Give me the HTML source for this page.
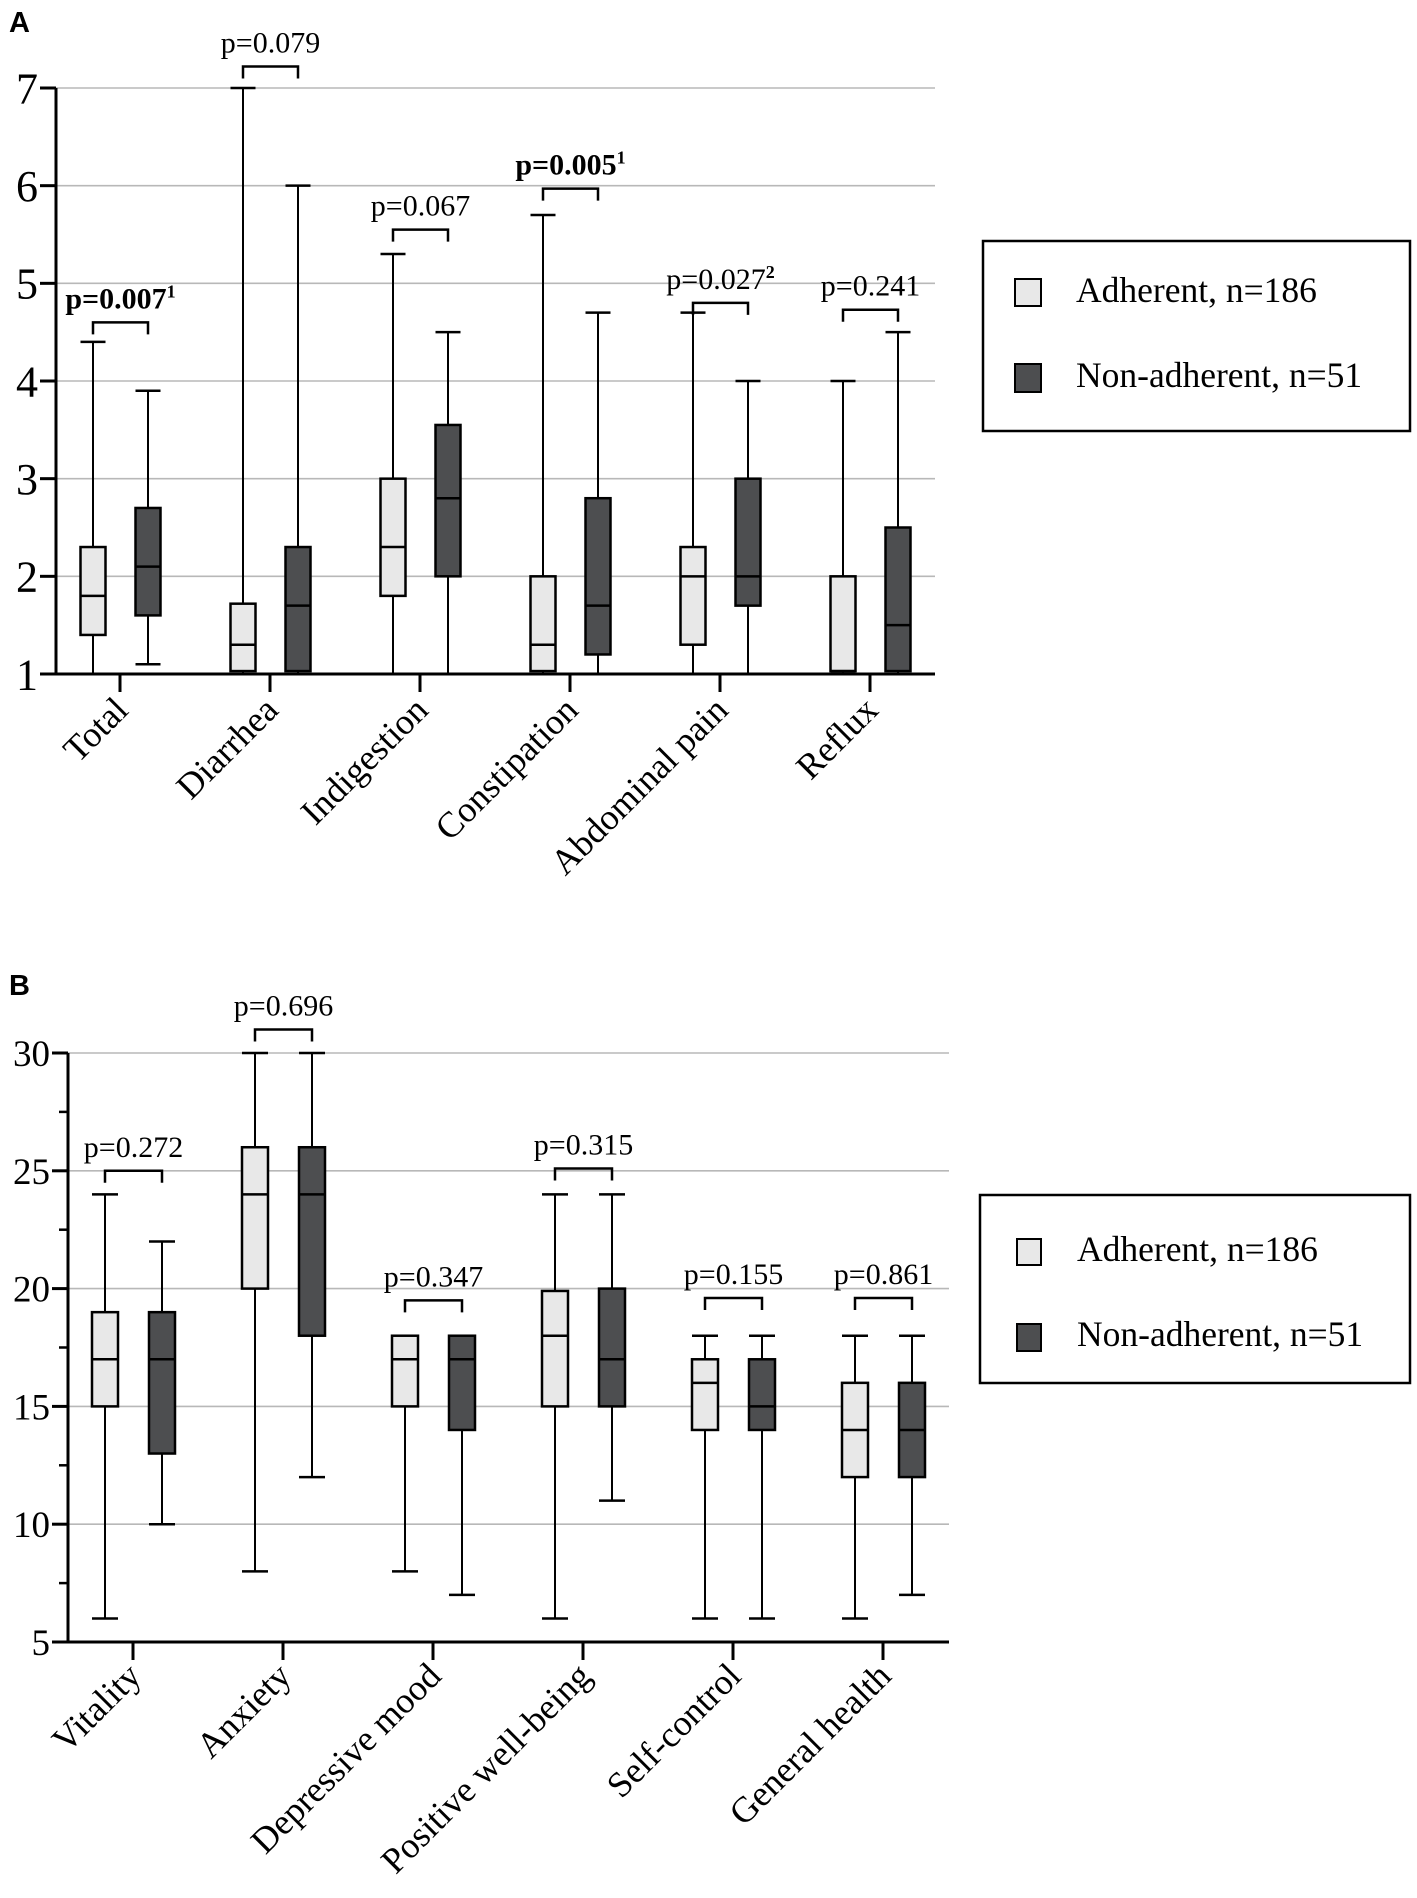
<!DOCTYPE html>
<html><head><meta charset="utf-8"><style>
body{margin:0;background:#fff;}
svg{display:block;}
text{font-family:"Liberation Serif",serif;fill:#000;}
</style></head><body>
<svg id="chart" xmlns="http://www.w3.org/2000/svg" width="1417" height="1898" viewBox="0 0 1417 1898">
<text x="9" y="32" style="font-family:'Liberation Sans',sans-serif;font-weight:bold;font-size:29px">A</text>
<text x="9" y="995" style="font-family:'Liberation Sans',sans-serif;font-weight:bold;font-size:29px">B</text>
<g id="gA"></g>
<g id="gB"></g>
<g>
<rect x="983" y="241" width="427" height="190" fill="#fff" stroke="#000" stroke-width="2.5"/>
<rect x="1015" y="279" width="26" height="27" fill="#e8e8e8" stroke="#000" stroke-width="2"/>
<text x="1076" y="302" font-size="35.5">Adherent, n=186</text>
<rect x="1015" y="364" width="26" height="28" fill="#4d4e50" stroke="#000" stroke-width="2"/>
<text x="1076" y="387" font-size="35.5">Non-adherent, n=51</text>
</g>
<g>
<rect x="980" y="1195" width="430" height="188" fill="#fff" stroke="#000" stroke-width="2.5"/>
<rect x="1017" y="1239" width="24" height="26" fill="#e8e8e8" stroke="#000" stroke-width="2"/>
<text x="1077" y="1261" font-size="35.5">Adherent, n=186</text>
<rect x="1017" y="1324" width="24" height="27" fill="#4d4e50" stroke="#000" stroke-width="2"/>
<text x="1077" y="1346" font-size="35.5">Non-adherent, n=51</text>
</g>
</svg>
<script>
// Panel A data
const catsA = ["Total","Diarrhea","Indigestion","Constipation","Abdominal pain","Reflux"];
// [whiskerLow, q1, median, q3, whiskerHigh]
const adhA = [[1,1.4,1.8,2.3,4.4],[1,1.03,1.3,1.72,7],[1,1.8,2.3,3.0,5.3],[1,1.03,1.3,2.0,5.7],[1,1.3,2.0,2.3,4.7],[1,1.03,1.03,2.0,4.0]];
const nonA = [[1.1,1.6,2.1,2.7,3.9],[1,1.03,1.7,2.3,6],[1,2.0,2.8,3.55,4.5],[1,1.2,1.7,2.8,4.7],[1,1.7,2.0,3.0,4.0],[1,1.03,1.5,2.5,4.5]];
const pA = ["p=0.007","p=0.079","p=0.067","p=0.005","p=0.027","p=0.241"];
const pSupA = ["1","","","1","2",""];
const pBoldA = [true,false,false,true,false,false];
const bracketA = [4.6,7.22,5.55,5.97,4.8,4.73];
const ticksA = [1,2,3,4,5,6,7];
// Panel B data
const catsB = ["Vitality","Anxiety","Depressive mood","Positive well-being","Self-control","General health"];
const adhB = [[6,15,17,19,24],[8,20,24,26,30],[8,15,17,18,18],[6,15,18,19.9,24],[6,14,16,17,18],[6,12,14,16,18]];
const nonB = [[10,13,17,19,22],[12,18,24,26,30],[7,14,17,18,18],[11,15,17,20,24],[6,14,15,17,18],[7,12,14,16,18]];
const pB = ["p=0.272","p=0.696","p=0.347","p=0.315","p=0.155","p=0.861"];
const bracketB = [25,31,19.5,25.1,19.6,19.6];
const ticksB = [5,10,15,20,25,30];
const minorB = [7.5,12.5,17.5,22.5,27.5];

const NS="http://www.w3.org/2000/svg";
function mk(parent,tag,attrs,txt){const e=document.createElementNS(NS,tag);for(const k in attrs)e.setAttribute(k,attrs[k]);if(txt!==undefined)e.textContent=txt;parent.appendChild(e);return e;}

function panel(g,cfg){
  const y=v=>cfg.y0+(v-cfg.vmin)*(cfg.y1-cfg.y0)/(cfg.vmax-cfg.vmin);
  const cx=i=>cfg.c0+150*i;
  cfg.ticks.forEach(t=>{ if(t===cfg.vmin) return;
    const l=mk(g,'line',{x1:cfg.ax,x2:cfg.gx,y1:y(t),y2:y(t),stroke:'#b8b8b8','stroke-width':1.6});
    
    
  });
  cfg.ticks.forEach(t=>{
    mk(g,'line',{x1:cfg.ax-16,x2:cfg.ax,y1:y(t),y2:y(t),stroke:'#000','stroke-width':3});
    const tx=mk(g,'text',{x:cfg.lx,y:y(t)+cfg.fs*0.35,'text-anchor':'end','font-size':cfg.fs},String(t));
    
    
  });
  (cfg.minor||[]).forEach(t=>mk(g,'line',{x1:cfg.ax-9,x2:cfg.ax,y1:y(t),y2:y(t),stroke:'#000','stroke-width':2.5}));
  const drawBox=(d,x,fill,name)=>{
    const w=cfg.bw;
    const bg=mk(g,'g',{});
    
    
    mk(bg,'line',{x1:x,x2:x,y1:y(d[0]),y2:y(d[4]),stroke:'#000','stroke-width':2});
    mk(bg,'line',{x1:x-w/2,x2:x+w/2,y1:y(d[4]),y2:y(d[4]),stroke:'#000','stroke-width':2.5});
    if(d[0]>cfg.vmin+0.05) mk(bg,'line',{x1:x-w/2,x2:x+w/2,y1:y(d[0]),y2:y(d[0]),stroke:'#000','stroke-width':2.5});
    mk(bg,'rect',{x:x-w/2,y:y(d[3]),width:w,height:y(d[1])-y(d[3]),fill:fill,stroke:'#000','stroke-width':2.5});
    mk(bg,'line',{x1:x-w/2,x2:x+w/2,y1:y(d[2]),y2:y(d[2]),stroke:'#000','stroke-width':2.5});
  };
  cfg.cats.forEach((c,i)=>{
    const xa=cx(i)+cfg.oa, xn=cx(i)+cfg.on;
    drawBox(cfg.adh[i],xa,'#e8e8e8','box-adherent-'+i);
    drawBox(cfg.non[i],xn,'#4d4e50','box-non-adherent-'+i);
    const by=y(cfg.br[i]);
    const br=mk(g,'path',{d:`M${xa},${by+12}V${by}H${xn}V${by+12}`,fill:'none',stroke:'#000','stroke-width':2.5});
    
    
    const pt=mk(g,'text',{x:(xa+xn)/2,y:by-14,'text-anchor':'middle','font-size':30,'font-weight':cfg.bold&&cfg.bold[i]?'bold':'normal'},cfg.p[i]);
    
    
    if(cfg.sup&&cfg.sup[i]){mk(pt,'tspan',{'font-size':18,dy:-11,'font-weight':'bold'},cfg.sup[i]);}
    mk(g,'line',{x1:cx(i),x2:cx(i),y1:cfg.y0,y2:cfg.y0+18,stroke:'#000','stroke-width':3});
    const lx=cx(i)+10, ly=cfg.y0+cfg.ldy;
    const ct=mk(g,'text',{x:lx,y:ly,'text-anchor':'end','font-size':cfg.cfs,transform:`rotate(-45 ${lx} ${ly})`},c);
    
    
  });
  mk(g,'line',{x1:cfg.ax,x2:cfg.ax,y1:cfg.y1,y2:cfg.y0+1.5,stroke:'#000','stroke-width':3});
  mk(g,'line',{x1:cfg.ax-16,x2:cfg.gx,y1:cfg.y0,y2:cfg.y0,stroke:'#000','stroke-width':3});
}
panel(document.getElementById('gA'),{cats:catsA,adh:adhA,non:nonA,p:pA,sup:pSupA,bold:pBoldA,br:bracketA,ticks:ticksA,
  vmin:1,vmax:7,y0:674,y1:88,ax:56,gx:935,lx:38,fs:44,c0:120,oa:-27,on:28,bw:25,ldy:38,cfs:36});
panel(document.getElementById('gB'),{cats:catsB,adh:adhB,non:nonB,p:pB,br:bracketB,ticks:ticksB,minor:minorB,
  vmin:5,vmax:30,y0:1642,y1:1053,ax:68,gx:949,lx:50,fs:37,c0:133,oa:-28,on:29,bw:26,ldy:36,cfs:36});
</script>
</body></html>
